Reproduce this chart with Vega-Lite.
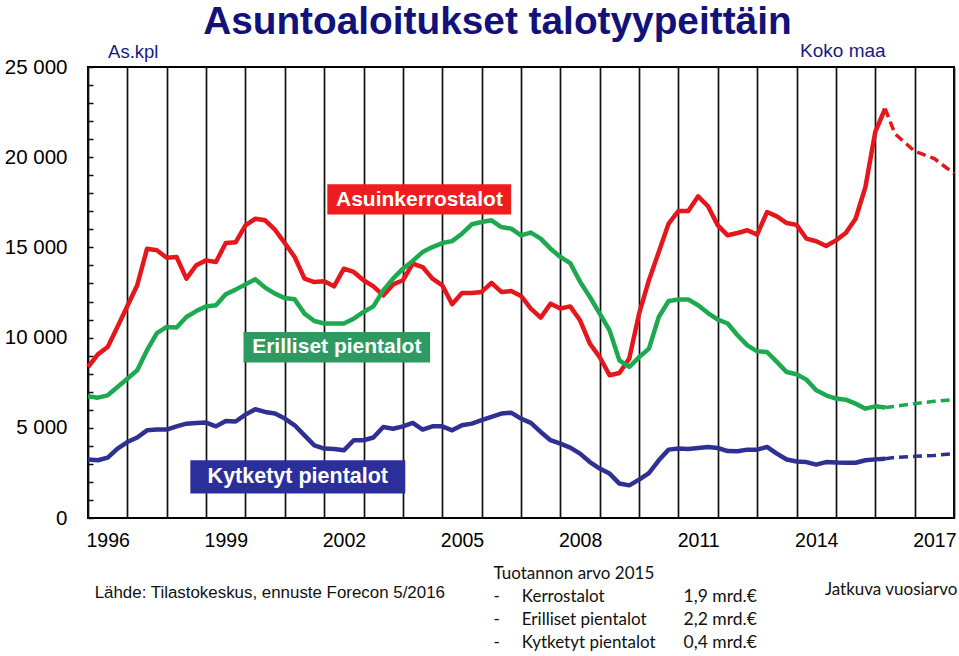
{
  "$schema": "https://vega.github.io/schema/vega-lite/v6.json",
  "width": 866,
  "height": 451,
  "autosize": "none",
  "padding": {"left": 88, "top": 67, "right": 5, "bottom": 138},
  "background": "white",
  "config": {
    "view": {"stroke": "black", "strokeWidth": 2},
    "axisX": {"tickCount": 22, "format": "d", "labelExpr": "(datum.value - 1996) % 3 == 0 && datum.value < 2018 ? datum.label : ''",
              "labelOffset": 19.7, "labelPadding": 13, "ticks": false, "domain": false,
              "grid": true, "gridColor": "#111111", "gridWidth": 1.7, "gridOpacity": 1,
              "labelFont": "Liberation Sans", "labelFontSize": 19.5, "labelColor": "black", "labelFlush": false, "labelOverlap": false},
    "axisY": {"tickCount": 25, "labelExpr": "datum.value % 5000 == 0 ? replace(format(datum.value, ','), ',', ' ') : ''",
              "ticks": true, "tickSize": -5, "tickColor": "#111111", "tickWidth": 1.5, "labelPadding": 26, "domain": false,
              "grid": true, "gridColor": "#111111", "gridWidth": 1.7,
              "gridOpacity": {"condition": {"test": "datum.value % 5000 == 0", "value": 1}, "value": 0},
              "labelFont": "Liberation Sans", "labelFontSize": 20.5, "labelColor": "black", "labelFlush": false, "labelOverlap": false}
  },
  "datasets": {
    "toteutunut": [
      {"t": 1996.00, "kerros": 8370, "erill": 6750, "kytk": 3240},
      {"t": 1996.25, "kerros": 9070, "erill": 6670, "kytk": 3200},
      {"t": 1996.50, "kerros": 9480, "erill": 6800, "kytk": 3350},
      {"t": 1996.75, "kerros": 10600, "erill": 7260, "kytk": 3850},
      {"t": 1997.00, "kerros": 11750, "erill": 7720, "kytk": 4210},
      {"t": 1997.25, "kerros": 12900, "erill": 8190, "kytk": 4460},
      {"t": 1997.50, "kerros": 14930, "erill": 9300, "kytk": 4860},
      {"t": 1997.75, "kerros": 14840, "erill": 10250, "kytk": 4900},
      {"t": 1998.00, "kerros": 14430, "erill": 10590, "kytk": 4900},
      {"t": 1998.25, "kerros": 14470, "erill": 10560, "kytk": 5080},
      {"t": 1998.50, "kerros": 13270, "erill": 11140, "kytk": 5230},
      {"t": 1998.75, "kerros": 14010, "erill": 11470, "kytk": 5270},
      {"t": 1999.00, "kerros": 14280, "erill": 11730, "kytk": 5290},
      {"t": 1999.25, "kerros": 14190, "erill": 11790, "kytk": 5080},
      {"t": 1999.50, "kerros": 15240, "erill": 12400, "kytk": 5380},
      {"t": 1999.75, "kerros": 15280, "erill": 12660, "kytk": 5350},
      {"t": 2000.00, "kerros": 16220, "erill": 12950, "kytk": 5730},
      {"t": 2000.25, "kerros": 16590, "erill": 13230, "kytk": 6030},
      {"t": 2000.50, "kerros": 16500, "erill": 12770, "kytk": 5880},
      {"t": 2000.75, "kerros": 15980, "erill": 12440, "kytk": 5790},
      {"t": 2001.00, "kerros": 15240, "erill": 12190, "kytk": 5510},
      {"t": 2001.25, "kerros": 14470, "erill": 12120, "kytk": 5140},
      {"t": 2001.50, "kerros": 13270, "erill": 11330, "kytk": 4580},
      {"t": 2001.75, "kerros": 13080, "erill": 10920, "kytk": 4030},
      {"t": 2002.00, "kerros": 13120, "erill": 10780, "kytk": 3850},
      {"t": 2002.25, "kerros": 12840, "erill": 10780, "kytk": 3830},
      {"t": 2002.50, "kerros": 13820, "erill": 10780, "kytk": 3750},
      {"t": 2002.75, "kerros": 13640, "erill": 11050, "kytk": 4310},
      {"t": 2003.00, "kerros": 13180, "erill": 11420, "kytk": 4310},
      {"t": 2003.25, "kerros": 12840, "erill": 11730, "kytk": 4460},
      {"t": 2003.50, "kerros": 12340, "erill": 12620, "kytk": 5040},
      {"t": 2003.75, "kerros": 12950, "erill": 13270, "kytk": 4950},
      {"t": 2004.00, "kerros": 13180, "erill": 13820, "kytk": 5080},
      {"t": 2004.25, "kerros": 14100, "erill": 14250, "kytk": 5270},
      {"t": 2004.50, "kerros": 13910, "erill": 14740, "kytk": 4900},
      {"t": 2004.75, "kerros": 13270, "erill": 15020, "kytk": 5080},
      {"t": 2005.00, "kerros": 12900, "erill": 15240, "kytk": 5080},
      {"t": 2005.25, "kerros": 11850, "erill": 15350, "kytk": 4860},
      {"t": 2005.50, "kerros": 12470, "erill": 15760, "kytk": 5140},
      {"t": 2005.75, "kerros": 12470, "erill": 16280, "kytk": 5230},
      {"t": 2006.00, "kerros": 12530, "erill": 16410, "kytk": 5420},
      {"t": 2006.25, "kerros": 13030, "erill": 16500, "kytk": 5600},
      {"t": 2006.50, "kerros": 12530, "erill": 16130, "kytk": 5790},
      {"t": 2006.75, "kerros": 12580, "erill": 16040, "kytk": 5840},
      {"t": 2007.00, "kerros": 12310, "erill": 15670, "kytk": 5510},
      {"t": 2007.25, "kerros": 11610, "erill": 15820, "kytk": 5270},
      {"t": 2007.50, "kerros": 11110, "erill": 15490, "kytk": 4770},
      {"t": 2007.75, "kerros": 11880, "erill": 14930, "kytk": 4310},
      {"t": 2008.00, "kerros": 11610, "erill": 14470, "kytk": 4120},
      {"t": 2008.25, "kerros": 11730, "erill": 14130, "kytk": 3900},
      {"t": 2008.50, "kerros": 10960, "erill": 13100, "kytk": 3570},
      {"t": 2008.75, "kerros": 9670, "erill": 12250, "kytk": 3100},
      {"t": 2009.00, "kerros": 8920, "erill": 11330, "kytk": 2740},
      {"t": 2009.25, "kerros": 7910, "erill": 10400, "kytk": 2460},
      {"t": 2009.50, "kerros": 8040, "erill": 8740, "kytk": 1910},
      {"t": 2009.75, "kerros": 8840, "erill": 8370, "kytk": 1810},
      {"t": 2010.00, "kerros": 11330, "erill": 8920, "kytk": 2130},
      {"t": 2010.25, "kerros": 13180, "erill": 9390, "kytk": 2490},
      {"t": 2010.50, "kerros": 14750, "erill": 11140, "kytk": 3200},
      {"t": 2010.75, "kerros": 16320, "erill": 12030, "kytk": 3790},
      {"t": 2011.00, "kerros": 17020, "erill": 12110, "kytk": 3850},
      {"t": 2011.25, "kerros": 17020, "erill": 12110, "kytk": 3830},
      {"t": 2011.50, "kerros": 17830, "erill": 11790, "kytk": 3880},
      {"t": 2011.75, "kerros": 17280, "erill": 11360, "kytk": 3940},
      {"t": 2012.00, "kerros": 16220, "erill": 11000, "kytk": 3880},
      {"t": 2012.25, "kerros": 15670, "erill": 10780, "kytk": 3710},
      {"t": 2012.50, "kerros": 15800, "erill": 10130, "kytk": 3700},
      {"t": 2012.75, "kerros": 15950, "erill": 9570, "kytk": 3790},
      {"t": 2013.00, "kerros": 15710, "erill": 9240, "kytk": 3790},
      {"t": 2013.25, "kerros": 16960, "erill": 9200, "kytk": 3940},
      {"t": 2013.50, "kerros": 16720, "erill": 8650, "kytk": 3570},
      {"t": 2013.75, "kerros": 16350, "erill": 8090, "kytk": 3240},
      {"t": 2014.00, "kerros": 16250, "erill": 7970, "kytk": 3130},
      {"t": 2014.25, "kerros": 15490, "erill": 7670, "kytk": 3100},
      {"t": 2014.50, "kerros": 15340, "erill": 7080, "kytk": 2960},
      {"t": 2014.75, "kerros": 15080, "erill": 6800, "kytk": 3100},
      {"t": 2015.00, "kerros": 15390, "erill": 6620, "kytk": 3070},
      {"t": 2015.25, "kerros": 15800, "erill": 6560, "kytk": 3060},
      {"t": 2015.50, "kerros": 16590, "erill": 6340, "kytk": 3060},
      {"t": 2015.75, "kerros": 18350, "erill": 6060, "kytk": 3200},
      {"t": 2016.00, "kerros": 21400, "erill": 6190, "kytk": 3250},
      {"t": 2016.25, "kerros": 22690, "erill": 6120, "kytk": 3290}
    ],
    "ennuste": [
      {"t": 2016.25, "kerros": 22690, "erill": 6120, "kytk": 3290},
      {"t": 2016.50, "kerros": 21300, "erill": 6190, "kytk": 3360},
      {"t": 2017.00, "kerros": 20330, "erill": 6340, "kytk": 3420},
      {"t": 2017.50, "kerros": 19920, "erill": 6470, "kytk": 3470},
      {"t": 2018.00, "kerros": 19090, "erill": 6560, "kytk": 3570}
    ],
    "yksi": [{}]
  },
  "layer": [
    {
      "data": {"name": "toteutunut"},
      "transform": [{"fold": ["kerros", "erill", "kytk"], "as": ["talotyyppi", "asunnot"]}],
      "mark": {"type": "line", "strokeWidth": 4.5, "strokeJoin": "round"},
      "encoding": {
        "x": {"field": "t", "type": "quantitative", "scale": {"domain": [1996, 2018], "nice": false, "zero": false}, "axis": {"title": null}},
        "y": {"field": "asunnot", "type": "quantitative", "scale": {"domain": [0, 25000], "nice": false}, "axis": {"title": null}},
        "color": {"field": "talotyyppi", "type": "nominal", "legend": null,
                  "scale": {"domain": ["kerros", "erill", "kytk"], "range": ["#e5161c", "#1daa4e", "#2e3192"]}}
      }
    },
    {
      "data": {"name": "ennuste"},
      "transform": [{"fold": ["kerros", "erill", "kytk"], "as": ["talotyyppi", "asunnot"]}],
      "mark": {"type": "line", "strokeWidth": 3.5, "strokeDash": [9, 5]},
      "encoding": {
        "x": {"field": "t", "type": "quantitative", "axis": {"title": null}},
        "y": {"field": "asunnot", "type": "quantitative", "axis": {"title": null}},
        "color": {"field": "talotyyppi", "type": "nominal", "legend": null}
      }
    },
    {
      "data": {"name": "yksi"},
      "mark": {"type": "rect", "color": "#ee1c1c"},
      "encoding": {"x": {"datum": 2002.08, "type": "quantitative"}, "x2": {"datum": 2006.75}, "y": {"datum": 18500, "type": "quantitative"}, "y2": {"datum": 16830}}
    },
    {
      "data": {"name": "yksi"},
      "mark": {"type": "text", "text": "Asuinkerrostalot", "font": "Liberation Sans", "fontSize": 21, "fontWeight": "bold", "color": "white", "align": "center", "baseline": "middle"},
      "encoding": {"x": {"datum": 2004.42, "type": "quantitative"}, "y": {"datum": 17640, "type": "quantitative"}}
    },
    {
      "data": {"name": "yksi"},
      "mark": {"type": "rect", "color": "#2e9a62"},
      "encoding": {"x": {"datum": 1999.95, "type": "quantitative"}, "x2": {"datum": 2004.69}, "y": {"datum": 10310, "type": "quantitative"}, "y2": {"datum": 8614}}
    },
    {
      "data": {"name": "yksi"},
      "mark": {"type": "text", "text": "Erilliset pientalot", "font": "Liberation Sans", "fontSize": 21, "fontWeight": "bold", "color": "white", "align": "center", "baseline": "middle"},
      "encoding": {"x": {"datum": 2002.32, "type": "quantitative"}, "y": {"datum": 9462, "type": "quantitative"}}
    },
    {
      "data": {"name": "yksi"},
      "mark": {"type": "rect", "color": "#2b2f9a"},
      "encoding": {"x": {"datum": 1998.6, "type": "quantitative"}, "x2": {"datum": 2004.06}, "y": {"datum": 3198, "type": "quantitative"}, "y2": {"datum": 1352}}
    },
    {
      "data": {"name": "yksi"},
      "mark": {"type": "text", "text": "Kytketyt pientalot", "font": "Liberation Sans", "fontSize": 21.5, "fontWeight": "bold", "color": "white", "align": "center", "baseline": "middle"},
      "encoding": {"x": {"datum": 2001.33, "type": "quantitative"}, "y": {"datum": 2273, "type": "quantitative"}}
    },
    {
      "data": {"name": "yksi"},
      "mark": {"type": "text", "text": "Asuntoaloitukset talotyypeittäin", "font": "Liberation Sans", "fontSize": 38.8, "fontWeight": "bold", "color": "#12127a", "align": "center", "baseline": "alphabetic", "clip": false},
      "encoding": {"x": {"datum": 2006.4, "type": "quantitative"}, "y": {"datum": 26850, "type": "quantitative"}}
    },
    {
      "data": {"name": "yksi"},
      "mark": {"type": "text", "text": "As.kpl", "font": "Liberation Sans", "fontSize": 18.5, "color": "#1a1a80", "align": "left", "baseline": "alphabetic", "clip": false},
      "encoding": {"x": {"datum": 1996.51, "type": "quantitative"}, "y": {"datum": 25480, "type": "quantitative"}}
    },
    {
      "data": {"name": "yksi"},
      "mark": {"type": "text", "text": "Koko maa", "font": "Liberation Sans", "fontSize": 19, "color": "#1a1a80", "align": "left", "baseline": "alphabetic", "clip": false},
      "encoding": {"x": {"datum": 2014.09, "type": "quantitative"}, "y": {"datum": 25540, "type": "quantitative"}}
    },
    {
      "data": {"name": "yksi"},
      "mark": {"type": "text", "text": "Lähde: Tilastokeskus, ennuste Forecon 5/2016", "font": "Liberation Sans", "fontSize": 16.9, "color": "#111111", "align": "left", "baseline": "middle", "clip": false},
      "encoding": {"x": {"datum": 1996.17, "type": "quantitative"}, "y": {"datum": -4170, "type": "quantitative"}}
    },
    {
      "data": {"name": "yksi"},
      "mark": {"type": "text", "text": ["Tuotannon arvo 2015", "-", "-", "-"], "font": "Lato", "fontSize": 17, "lineHeight": 23, "color": "#111111", "align": "left", "baseline": "middle", "clip": false},
      "encoding": {"x": {"datum": 2006.3, "type": "quantitative"}, "y": {"datum": -3120, "type": "quantitative"}}
    },
    {
      "data": {"name": "yksi"},
      "mark": {"type": "text", "text": ["", "Kerrostalot", "Erilliset pientalot", "Kytketyt pientalot"], "font": "Lato", "fontSize": 17, "lineHeight": 23, "color": "#111111", "align": "left", "baseline": "middle", "clip": false},
      "encoding": {"x": {"datum": 2007.02, "type": "quantitative"}, "y": {"datum": -3120, "type": "quantitative"}}
    },
    {
      "data": {"name": "yksi"},
      "mark": {"type": "text", "text": ["", "1,9 mrd.€", "2,2 mrd.€", "0,4 mrd.€"], "font": "Lato", "fontSize": 17.5, "lineHeight": 23, "color": "#111111", "align": "left", "baseline": "middle", "clip": false},
      "encoding": {"x": {"datum": 2011.13, "type": "quantitative"}, "y": {"datum": -3120, "type": "quantitative"}}
    },
    {
      "data": {"name": "yksi"},
      "mark": {"type": "text", "text": "Jatkuva vuosiarvo", "font": "Lato", "fontSize": 17, "color": "#111111", "align": "left", "baseline": "middle", "clip": false},
      "encoding": {"x": {"datum": 2014.72, "type": "quantitative"}, "y": {"datum": -4010, "type": "quantitative"}}
    }
  ]
}
